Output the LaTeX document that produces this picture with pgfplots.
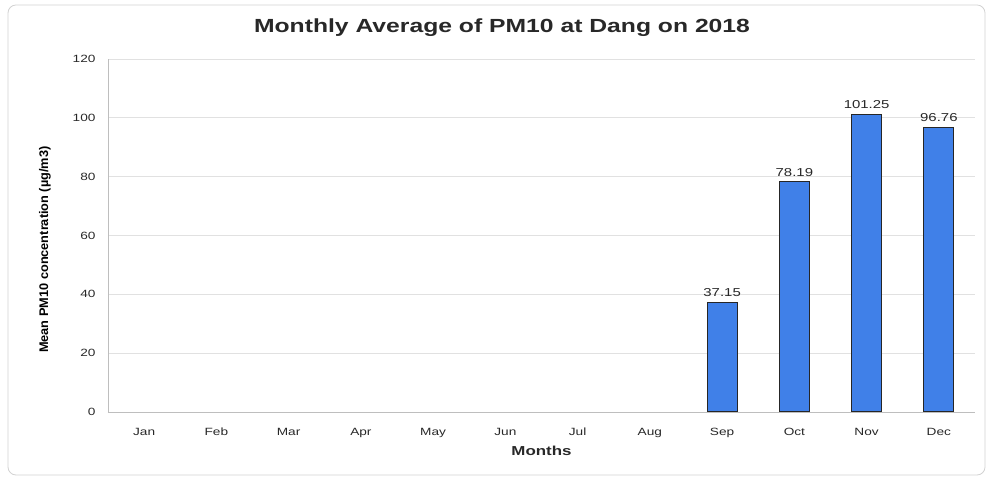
\documentclass[border=0pt]{standalone}
\usepackage{pgfplots}
\pgfplotsset{compat=1.18}
\usepackage{fontspec}
\setmainfont[FakeStretch=1.3]{Liberation Sans}
\newfontfamily\labfont[FakeStretch=1.02]{Liberation Sans}
\definecolor{barblue}{RGB}{64,128,232}
\definecolor{gridgray}{RGB}{225,225,225}
\definecolor{axgray}{RGB}{190,190,190}
\definecolor{txt}{RGB}{40,40,40}
\begin{document}
\begin{tikzpicture}
\useasboundingbox (-108pt,-66pt) rectangle (879pt,412pt);
\draw[rounded corners=8pt, color=gray!35, line width=0.8pt] (-100pt,-63pt) rectangle (877pt,407pt);
\begin{axis}[
  scale only axis,
  width=867pt, height=353pt,
  xmin=-0.5, xmax=11.5,
  ymin=0, ymax=120,
  ytick={0,20,...,120},
  xtick={0,...,11},
  xticklabels={Jan,Feb,Mar,Apr,May,Jun,Jul,Aug,Sep,Oct,Nov,Dec},
  axis x line*=bottom, axis y line*=left,
  axis line style={axgray, line width=0.8pt},
  major tick length=0pt,
  ymajorgrids, grid style={gridgray, line width=0.8pt},
  tick label style={font=\fontsize{10.5}{12}\selectfont, text=txt},
  /pgf/number format/assume math mode=true,
  yticklabel style={xshift=-9pt},
  xticklabel style={yshift=-12pt, text height=1.5ex, text depth=0.3ex},
  xlabel={Months},
  xlabel style={font=\bfseries\fontsize{13}{15}\selectfont, text=txt, yshift=-2pt},
  ylabel={Mean PM10 concentration (µg/m3)},
  ylabel style={font=\labfont\bfseries\fontsize{12.5}{14}\selectfont, text=black, at={(axis description cs:-0.0727,0.46)}, anchor=center},
  nodes near coords,
  nodes near coords style={font=\fontsize{11.5}{13}\selectfont, text=txt, /pgf/number format/fixed, /pgf/number format/precision=2, /pgf/number format/fixed zerofill, /pgf/number format/assume math mode=true, yshift=2pt},
]
\addplot[ybar, bar width=30pt, fill=barblue, draw=black!85, line width=1pt] coordinates {(8,37.15) (9,78.19) (10,101.25) (11,96.76)};
\end{axis}
\node[font=\bfseries\fontsize{19}{22}\selectfont, text=txt] at (394pt,384pt) {Monthly Average of PM10 at Dang on 2018};
\end{tikzpicture}
\end{document}
